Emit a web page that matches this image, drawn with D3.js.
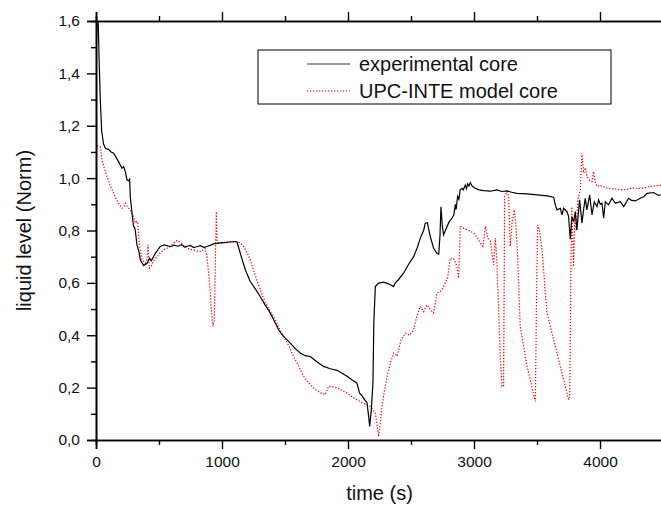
<!DOCTYPE html>
<html>
<head>
<meta charset="utf-8">
<script src="https://cdn.jsdelivr.net/npm/d3@7"></script>
<style>
  body { margin: 0; background: #fff; }
  svg { display: block; font-family: Arial, "Liberation Sans", sans-serif; }
</style>
</head>
<body>
<div id="chart"></div>
<script>
// experimental core (black solid)
var expTime = [0, 8, 18, 25, 34, 45, 60, 75, 100, 120, 140, 179, 206, 219, 233, 246, 260, 267, 272, 286, 298, 305, 312, 325, 340, 352, 378, 405, 425, 439, 471, 510, 540, 563, 590, 620, 650, 680, 700, 722, 750, 775, 800, 828, 855, 881, 910, 933, 970, 1013, 1060, 1106, 1119, 1145, 1185, 1224, 1263, 1303, 1343, 1383, 1420, 1449, 1476, 1510, 1542, 1580, 1621, 1660, 1701, 1750, 1806, 1860, 1913, 1950, 1992, 2030, 2071, 2092, 2110, 2124, 2151, 2164, 2172, 2185, 2198, 2205, 2217, 2243, 2283, 2310, 2336, 2362, 2375, 2400, 2441, 2480, 2521, 2550, 2574, 2600, 2613, 2630, 2653, 2679, 2695, 2706, 2720, 2730, 2738, 2748, 2759, 2786, 2800, 2812, 2825, 2840, 2852, 2858, 2870, 2880, 2890, 2905, 2915, 2931, 2940, 2950, 2960, 2971, 2985, 3010, 3040, 3076, 3130, 3182, 3220, 3262, 3300, 3341, 3421, 3500, 3579, 3632, 3645, 3659, 3685, 3698, 3711, 3738, 3751, 3764, 3777, 3791, 3804, 3817, 3838, 3857, 3870, 3883, 3896, 3918, 3936, 3955, 3976, 3989, 4002, 4016, 4029, 4042, 4068, 4095, 4121, 4161, 4188, 4227, 4250, 4280, 4320, 4350, 4373, 4426, 4460, 4500];
var expLevel = [1.45, 1.6, 1.59, 1.45, 1.30, 1.18, 1.13, 1.113, 1.11, 1.10, 1.095, 1.063, 1.038, 1.044, 1.025, 0.993, 0.99, 0.996, 0.93, 0.866, 0.815, 0.813, 0.80, 0.745, 0.72, 0.688, 0.666, 0.675, 0.694, 0.684, 0.713, 0.739, 0.745, 0.742, 0.738, 0.744, 0.74, 0.746, 0.737, 0.74, 0.743, 0.735, 0.738, 0.742, 0.736, 0.739, 0.744, 0.749, 0.752, 0.754, 0.756, 0.758, 0.756, 0.713, 0.65, 0.605, 0.578, 0.548, 0.515, 0.485, 0.45, 0.421, 0.402, 0.385, 0.37, 0.35, 0.332, 0.322, 0.319, 0.30, 0.281, 0.272, 0.266, 0.256, 0.243, 0.23, 0.217, 0.179, 0.17, 0.16, 0.141, 0.09, 0.052, 0.116, 0.219, 0.45, 0.586, 0.599, 0.603, 0.598, 0.593, 0.586, 0.60, 0.612, 0.637, 0.67, 0.70, 0.735, 0.771, 0.80, 0.828, 0.83, 0.777, 0.733, 0.72, 0.713, 0.71, 0.78, 0.891, 0.82, 0.783, 0.815, 0.83, 0.84, 0.847, 0.86, 0.90, 0.88, 0.93, 0.92, 0.955, 0.961, 0.955, 0.974, 0.96, 0.978, 0.97, 0.983, 0.97, 0.961, 0.955, 0.952, 0.95, 0.955, 0.949, 0.951, 0.946, 0.942, 0.94, 0.936, 0.932, 0.927, 0.898, 0.879, 0.885, 0.86, 0.885, 0.872, 0.853, 0.767, 0.853, 0.834, 0.872, 0.802, 0.917, 0.828, 0.88, 0.923, 0.879, 0.936, 0.86, 0.91, 0.891, 0.917, 0.90, 0.904, 0.847, 0.91, 0.898, 0.923, 0.904, 0.91, 0.891, 0.923, 0.915, 0.913, 0.923, 0.93, 0.942, 0.945, 0.935, 0.936];

// UPC-INTE model core (red dotted)
var modelTime = [8, 34, 48, 65, 87, 110, 140, 160, 179, 206, 220, 233, 245, 259, 280, 298, 312, 325, 330, 346, 365, 391, 405, 413, 423, 440, 460, 484, 510, 537, 565, 590, 615, 643, 660, 683, 700, 722, 750, 775, 800, 828, 850, 867, 881, 895, 907, 920, 928, 939, 947, 955, 960, 973, 1000, 1040, 1080, 1119, 1145, 1171, 1200, 1224, 1263, 1304, 1343, 1383, 1410, 1450, 1489, 1530, 1568, 1610, 1648, 1690, 1727, 1780, 1820, 1846, 1880, 1913, 1950, 1992, 2030, 2071, 2120, 2177, 2217, 2230, 2243, 2255, 2270, 2290, 2310, 2335, 2362, 2390, 2420, 2455, 2490, 2521, 2545, 2574, 2600, 2627, 2650, 2679, 2706, 2740, 2772, 2790, 2812, 2838, 2865, 2878, 2891, 2917, 2960, 2997, 3030, 3050, 3071, 3090, 3110, 3130, 3156, 3169, 3180, 3195, 3210, 3222, 3235, 3243, 3262, 3275, 3288, 3302, 3320, 3333, 3346, 3367, 3421, 3487, 3495, 3505, 3520, 3540, 3579, 3619, 3685, 3751, 3760, 3770, 3777, 3790, 3800, 3812, 3825, 3844, 3857, 3870, 3884, 3897, 3920, 3937, 3949, 3963, 3976, 4000, 4056, 4120, 4187, 4250, 4320, 4400, 4500];
var modelLevel = [1.124, 1.12, 1.07, 1.04, 1.006, 0.975, 0.942, 0.92, 0.904, 0.885, 0.89, 0.904, 0.895, 0.885, 0.87, 0.853, 0.828, 0.834, 0.834, 0.739, 0.688, 0.675, 0.69, 0.745, 0.656, 0.665, 0.685, 0.70, 0.715, 0.726, 0.733, 0.74, 0.752, 0.762, 0.758, 0.75, 0.74, 0.732, 0.728, 0.726, 0.722, 0.72, 0.726, 0.732, 0.70, 0.63, 0.561, 0.47, 0.434, 0.459, 0.68, 0.872, 0.764, 0.752, 0.753, 0.754, 0.756, 0.758, 0.752, 0.739, 0.715, 0.688, 0.63, 0.573, 0.525, 0.49, 0.472, 0.43, 0.395, 0.36, 0.319, 0.28, 0.243, 0.218, 0.198, 0.18, 0.173, 0.205, 0.203, 0.20, 0.19, 0.179, 0.166, 0.154, 0.14, 0.128, 0.103, 0.06, 0.014, 0.06, 0.128, 0.19, 0.243, 0.29, 0.332, 0.32, 0.38, 0.408, 0.40, 0.421, 0.47, 0.51, 0.49, 0.516, 0.50, 0.485, 0.561, 0.57, 0.599, 0.62, 0.694, 0.694, 0.662, 0.618, 0.815, 0.809, 0.80, 0.79, 0.77, 0.752, 0.74, 0.815, 0.77, 0.76, 0.669, 0.77, 0.70, 0.51, 0.30, 0.205, 0.205, 0.929, 0.949, 0.93, 0.739, 0.828, 0.879, 0.82, 0.70, 0.434, 0.281, 0.147, 0.50, 0.821, 0.80, 0.726, 0.485, 0.408, 0.281, 0.154, 0.17, 0.70, 0.89, 0.662, 0.85, 0.80, 0.92, 0.955, 1.095, 1.02, 1.04, 1.006, 0.99, 0.987, 1.025, 0.985, 0.968, 0.972, 0.962, 0.958, 0.955, 0.962, 0.961, 0.968, 0.974];

var xTicks = [0, 1000, 2000, 3000, 4000];
var xMinor = [500, 1500, 2500, 3500, 4500];
var yTicks = [0, 0.2, 0.4, 0.6, 0.8, 1.0, 1.2, 1.4, 1.6];
var yMinor = [0.1, 0.3, 0.5, 0.7, 0.9, 1.1, 1.3, 1.5];
var legendNames = ["experimental core", "UPC-INTE model core"];

var W = 661, H = 508;
var margin = { top: 21, left: 96, bottom: 68 };
var plotW = 567, plotH = H - margin.top - margin.bottom;

var svg = d3.select("#chart").append("svg")
  .attr("width", W)
  .attr("height", H);

var x = d3.scaleLinear().domain([0, 4500]).range([0, plotW]);
var y = d3.scaleLinear().domain([0, 1.6]).range([plotH, 0]);

var g = svg.append("g")
  .attr("transform", "translate(" + margin.left + "," + margin.top + ")");

function comma(fmt) {
  return function(d) { return d3.format(fmt)(d).replace(".", ","); };
}

svg.append("defs").append("clipPath").attr("id", "clip")
  .append("rect").attr("width", plotW).attr("height", plotH + 2).attr("y", -1);

// lines
var expData = expTime.map(function(t, i) { return [t, expLevel[i]]; });
var modelData = modelTime.map(function(t, i) { return [t, modelLevel[i]]; });
var line = d3.line()
  .x(function(d) { return x(d[0]); })
  .y(function(d) { return y(d[1]); });

var plot = g.append("g").attr("clip-path", "url(#clip)");
plot.append("path")
  .datum(modelData)
  .attr("d", line)
  .attr("fill", "none")
  .attr("stroke", "#ff0000")
  .attr("stroke-width", 1.2)
  .attr("stroke-dasharray", "1.3,1.7");
plot.append("path")
  .datum(expData)
  .attr("d", line)
  .attr("fill", "none")
  .attr("stroke", "#000")
  .attr("stroke-width", 1.2);

// axes
function styleAxis(sel) {
  sel.selectAll(".domain").attr("stroke-width", 1.6);
  sel.selectAll(".tick line").attr("stroke-width", 1.4);
  sel.selectAll("text").attr("font-size", "15.5px").attr("fill", "#111")
    .attr("font-family", "Arial, 'Liberation Sans', sans-serif");
}

g.append("g").attr("transform", "translate(0," + plotH + ")")
  .call(d3.axisBottom(x).tickValues(xTicks).tickSize(9).tickPadding(7).tickFormat(d3.format("d")))
  .call(styleAxis);
g.append("g").attr("transform", "translate(0," + plotH + ")")
  .call(d3.axisBottom(x).tickValues(xMinor).tickSize(5).tickFormat(""))
  .call(styleAxis);
g.append("g")
  .call(d3.axisTop(x).tickValues(xTicks).tickSize(9).tickFormat(""))
  .call(styleAxis);
g.append("g")
  .call(d3.axisTop(x).tickValues(xMinor).tickSize(5).tickFormat(""))
  .call(styleAxis);
g.append("g")
  .call(d3.axisLeft(y).tickValues(yTicks).tickSize(9).tickPadding(7).tickFormat(comma(".1f")))
  .call(styleAxis);
g.append("g")
  .call(d3.axisLeft(y).tickValues(yMinor).tickSize(5).tickFormat(""))
  .call(styleAxis);

// axis titles
svg.append("text")
  .attr("x", margin.left + x(2250))
  .attr("y", 500)
  .attr("text-anchor", "middle")
  .attr("font-size", "20px")
  .attr("fill", "#111")
  .text("time (s)");

svg.append("text")
  .attr("transform", "translate(31," + (margin.top + plotH / 2) + ") rotate(-90)")
  .attr("text-anchor", "middle")
  .attr("font-size", "20px")
  .attr("fill", "#111")
  .text("liquid level (Norm)");

// legend
var leg = svg.append("g").attr("transform", "translate(258,50)");
leg.append("rect")
  .attr("width", 353).attr("height", 54)
  .attr("fill", "#fff").attr("stroke", "#000").attr("stroke-width", 1);
var rows = leg.selectAll(".row").data(legendNames).enter().append("g")
  .attr("transform", function(d, i) { return "translate(0," + (14 + i * 27) + ")"; });
rows.append("line")
  .attr("x1", 49).attr("x2", 92)
  .attr("stroke", function(d, i) { return i ? "#ff0000" : "#333"; })
  .attr("stroke-width", 1.2)
  .attr("stroke-dasharray", function(d, i) { return i ? "1.3,1.7" : null; });
rows.append("text")
  .attr("x", 101).attr("dy", "0.35em")
  .attr("font-size", "20px")
  .attr("fill", "#111")
  .text(function(d) { return d; });
</script>
</body>
</html>
